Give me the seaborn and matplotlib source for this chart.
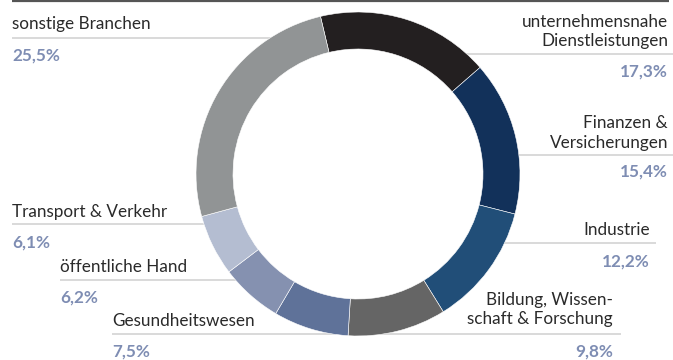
import numpy as np
import matplotlib
matplotlib.use("Agg")
import matplotlib.pyplot as plt
import seaborn as sns

# ---- data (clockwise from top) ----
categories = ["unternehmensnahe\nDienstleistungen", "Finanzen &\nVersicherungen", "Industrie",
              "Bildung, Wissen-\nschaft & Forschung", "Gesundheitswesen", "öffentliche Hand",
              "Transport & Verkehr", "sonstige Branchen"]
values = [17.3, 15.4, 12.2, 9.8, 7.5, 6.2, 6.1, 25.5]
pct_labels = ["17,3%", "15,4%", "12,2%", "9,8%", "7,5%", "6,2%", "6,1%", "25,5%"]
colors = ["#231f20", "#12315a", "#214e78", "#656565", "#5f7299", "#8591b0", "#b4bdd1", "#919495"]

sns.set_theme(style="white")
plt.rcParams["font.family"] = ["Lato", "DejaVu Sans"]

W, H = 673, 360
fig = plt.figure(figsize=(W / 100, H / 100), dpi=100)
ax = fig.add_axes([0, 0, 1, 1])

cx, cy_top, R, ring = 358, 174, 162, 37
cy = H - cy_top

ax.pie(values, colors=colors, startangle=103.4, counterclock=False,
       center=(cx, cy), radius=R, frame=True,
       wedgeprops=dict(width=ring, linewidth=0.4, edgecolor="white"))
ax.set_xlim(0, W)
ax.set_ylim(0, H)
ax.set_aspect("equal")
ax.axis("off")

# label layout: (text_y, line_y, pct_y, x_text, side, line_end)
layout = {
    "unternehmensnahe\nDienstleistungen": (31.5, 54, 72, 668, "right", 673),
    "Finanzen &\nVersicherungen": (133, 155, 172, 668, "right", 673),
    "Industrie": (230, 243, 262, 650, "right", 656),
    "Bildung, Wissen-\nschaft & Forschung": (309.5, 334, 352, 613, "right", 621),
    "Gesundheitswesen": (321, 334, 352, 112, "left", 112),
    "öffentliche Hand": (267, 280, 298, 60, "left", 60),
    "Transport & Verkehr": (212, 224, 243, 12, "left", 12),
    "sonstige Branchen": (24, 38, 56, 12, "left", 12),
}

txt_color = "#2a2a2a"
pct_color = "#7e8db3"
line_color = "#d0d0d0"
fs = 12.3

for cat, pct in zip(categories, pct_labels):
    ty, ly, py, tx, side, lend = layout[cat]
    dy = abs(ly - cy_top)
    edge = np.sqrt(max(R ** 2 - dy ** 2, 0))
    if side == "left":
        x0, x1 = lend, cx - edge + 3
        ha = "left"
    else:
        x0, x1 = cx + edge - 3, lend
        ha = "right"
    ax.plot([x0, x1], [H - ly, H - ly], color=line_color, lw=1.1, zorder=0,
            solid_capstyle="butt")
    ax.text(tx, H - ty, cat, ha=ha, va="center", fontsize=fs, color=txt_color,
            linespacing=1.27, multialignment=ha)
    ax.text(tx, H - py, pct, ha=ha, va="center", fontsize=fs, color=pct_color,
            fontweight="bold")

# top rule
ax.plot([12, 669], [H - 0.8, H - 0.8], color="#555555", lw=1.6, solid_capstyle="butt")

fig.savefig("out.png", dpi=100)
